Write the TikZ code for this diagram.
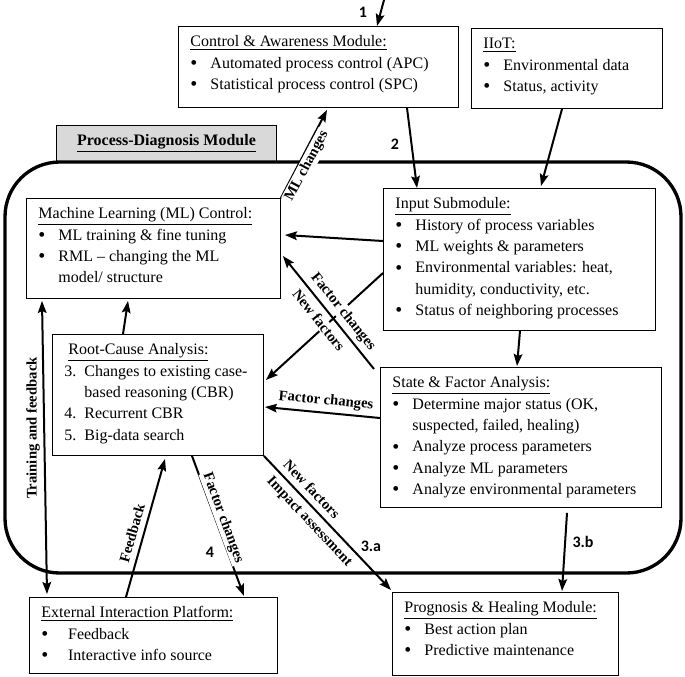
\documentclass[tikz,border=0pt]{standalone}
\usepackage{fontspec}
\setmainfont{Liberation Serif}[Ligatures=TeX]
\newfontfamily\numfont{Carlito}
\usepackage{tikz}
\usetikzlibrary{arrows.meta}
\newcommand{\dotmark}{\raisebox{-1pt}{\fontsize{15}{16}\selectfont\textbullet}}
\newcommand{\bul}{\makebox[15pt][l]{\dotmark}}
\newcommand{\modtext}[3]{\parbox[t][#2][t]{#1}{\rmfamily\begin{tabular}[t]{@{}l@{}}#3\end{tabular}}}

\begin{document}
\begin{tikzpicture}[x=0.75pt,y=-0.75pt,
  module/.style={draw,line width=0.7pt,anchor=north west,inner xsep=9pt,inner ysep=4pt,font=\rmfamily\fontsize{12}{16}\selectfont},
  tab/.style={draw,line width=0.7pt,fill=gray!30,anchor=south west,minimum width=165pt,minimum height=27pt,font=\rmfamily\fontsize{12}{14}\selectfont\bfseries},
  arr/.style={line width=1.5pt,-{Stealth[length=9pt,width=6.5pt,inset=1.5pt]}},
  darr/.style={line width=1.5pt,{Stealth[length=9pt,width=6.5pt,inset=1.5pt]}-{Stealth[length=9pt,width=6.5pt,inset=1.5pt]}},
  lbl/.style={font=\rmfamily\fontsize{11}{13}\selectfont\bfseries,fill=white,inner sep=1pt},
  num/.style={font=\numfont\fontsize{12}{14}\selectfont\bfseries}]
\useasboundingbox (0,0) rectangle (685,676);
\node[tab] (pdm) at (56,162) {\underline{Process-Diagnosis Module}};
\draw[line width=2.5pt,rounded corners=41pt] (5,162) rectangle (681,573);

\node[module] (cam) at (178,26) {\modtext{192pt}{52.75pt}{\underline{Control \& Awareness Module:}\\
  \bul Automated process control (APC)\\
  \bul Statistical process control (SPC)}};
\node[module] (iiot) at (471,28) {\modtext{125.25pt}{52pt}{\underline{IIoT:}\\
  \bul Environmental data\\
  \bul Status, activity}};
\node[module] (mlc) at (26,198) {\modtext{172.5pt}{67pt}{\underline{Machine Learning (ML) Control:}\\
  \bul ML training \& fine tuning\\
  \bul RML – changing the ML\\
  \hspace*{15pt}model/ structure}};
\node[module] (inp) at (383,188) {\modtext{186pt}{98.5pt}{\underline{Input Submodule:}\\
  \bul History of process variables\\
  \bul ML weights \& parameters\\
  \bul Environmental variables: heat,\\
  \hspace*{15pt}humidity, conductivity, etc.\\
  \bul Status of neighboring processes}};
\node[module] (rca) at (52,334) {\modtext{140.25pt}{82.75pt}{\hspace{3pt}\underline{Root-Cause Analysis:}\\
  \makebox[15pt][l]{3.}Changes to existing case-\\
  \hspace*{15pt}based reasoning (CBR)\\
  \makebox[15pt][l]{4.}Recurrent CBR\\
  \makebox[15pt][l]{5.}Big-data search}};
\node[module] (sfa) at (380,367) {\modtext{192.75pt}{97pt}{\underline{State \& Factor Analysis:}\\
  \bul Determine major status (OK,\\
  \hspace*{15pt}suspected, failed, healing)\\
  \bul Analyze process parameters\\
  \bul Analyze ML parameters\\
  \bul Analyze environmental parameters}};
\node[module] (eip) at (29,597) {\modtext{168pt}{49pt}{\underline{External Interaction Platform:}\\
  \makebox[20pt][l]{\dotmark}Feedback\\
  \makebox[20pt][l]{\dotmark}Interactive info source}};
\node[module] (phm) at (392,592) {\modtext{151.5pt}{54.25pt}{\underline{Prognosis \& Healing Module:}\\
  \bul Best action plan\\
  \bul Predictive maintenance}};

\coordinate (src) at (384,0);
\draw[arr] (src) -- ([shift={(199,0)}]cam.north west);
\draw[arr] ([shift={(229,0)}]cam.south west) -- ([shift={(34,0)}]inp.north west);
\draw[arr] (mlc.north east) -- ([shift={(149,2)}]cam.south west);
\draw[arr] ([shift={(91,0)}]iiot.south west) -- ([shift={(158,-2)}]inp.north west);
\draw[arr] ([shift={(0,53)}]inp.north west) -- ([shift={(4,37)}]mlc.north east);
\draw[arr] ([shift={(0,85)}]inp.north west) -- ([shift={(2,46)}]rca.north east);
\draw[arr] ([shift={(137,0)}]inp.south west) -- ([shift={(137,-1)}]sfa.north west);
\draw[arr] ([shift={(0,51)}]sfa.north west) -- ([shift={(1,73)}]rca.north east);
\draw[arr] ([shift={(71,0)}]rca.north west) -- ([shift={(102,2)}]mlc.south west);
\draw[darr] ([shift={(16,2)}]mlc.south west) -- ([shift={(18,-3)}]eip.north west);
\draw[arr] ([shift={(97,0)}]eip.north west) -- ([shift={(113,3)}]rca.south west);
\draw[arr] ([shift={(140,0)}]rca.south west) -- ([shift={(215,-1)}]eip.north west);
\draw[arr] (rca.south east) -- ([shift={(-1,-2)}]phm.north west);
\draw[arr] ([shift={(187,5)}]sfa.south west) -- ([shift={(170,-1)}]phm.north west);

\node[lbl,rotate=62] (mlch) at (307,166) {ML changes};
\node[lbl,rotate=-51.4] (fch1) at (343,312) {Factor changes};
\node[lbl,rotate=-51.4] (nf1) at (319,320) {New factors};
\node[lbl,rotate=-5.4] (fch2) at (326,401) {Factor changes};
\node[lbl,rotate=90] (tf) at (33,428) {Training and feedback};
\node[lbl,rotate=74] (fb) at (132,533) {Feedback};
\node[lbl,rotate=-69.8] (fch3) at (223,518) {Factor changes};
\node[lbl,rotate=-46.5] (nf2) at (312,489) {New factors};
\node[lbl,rotate=-46.5] (ia) at (309,522) {Impact assessment};
\draw[arr] ([shift={(-6,2)}]sfa.north west) -- ([shift={(2,58)}]mlc.north east);

\node[num] (n1) at (363,12) {1};
\node[num] (n2) at (395,144) {2};
\node[num] (n4) at (210,552) {4};
\node[num] (n3a) at (371,546) {3.a};
\node[num] (n3b) at (583,542) {3.b};
\end{tikzpicture}
\end{document}
